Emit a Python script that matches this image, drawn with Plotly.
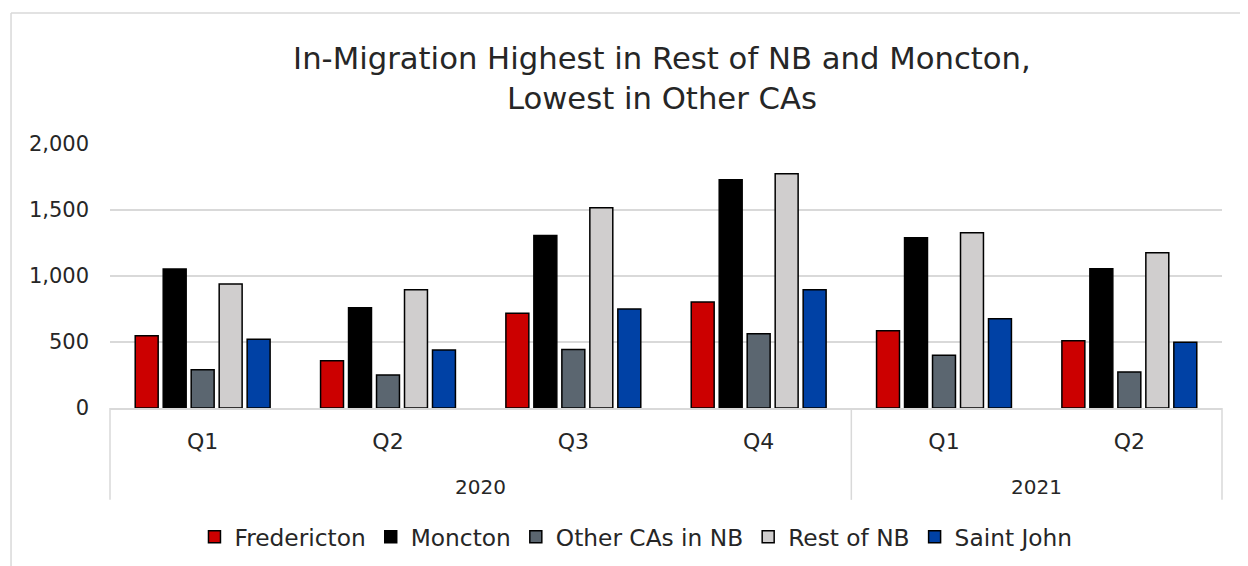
import plotly.graph_objects as go

years = ["2020", "2021"]
year_quarter_counts = [4, 2]
quarters = ["Q1", "Q2", "Q3", "Q4", "Q1", "Q2"]
categories = ["2020 Q1", "2020 Q2", "2020 Q3", "2020 Q4", "2021 Q1", "2021 Q2"]

series_names = ["Fredericton", "Moncton", "Other CAs in NB", "Rest of NB", "Saint John"]
fredericton = [548, 358, 717, 803, 586, 510]
moncton = [1053, 760, 1306, 1730, 1290, 1055]
other_cas = [290, 250, 444, 563, 399, 273]
rest_of_nb = [939, 896, 1517, 1775, 1328, 1177]
saint_john = [520, 439, 750, 896, 677, 498]
colors = ["#CC0000", "#000000", "#5B6670", "#D0CECE", "#0041A5"]

values = [fredericton, moncton, other_cas, rest_of_nb, saint_john]

FONT = "DejaVu Sans"
TXT = "#262626"
GRID = "#D9D9D9"

fig = go.Figure()
for name, vals, col in zip(series_names, values, colors):
    fig.add_trace(go.Bar(
        x=categories, y=vals, name=name,
        marker=dict(color=col, line=dict(color="#000000", width=1.5)),
    ))

# year labels centred under their quarters, dividers between years
annotations = []
shapes = []
n = len(categories)
start = 0
shapes.append(dict(type="line", xref="paper", yref="paper", x0=0, x1=0, y0=0, y1=-0.348,
                   line=dict(color=GRID, width=1.5)))
for yr, cnt in zip(years, year_quarter_counts):
    centre = start + (cnt - 1) / 2
    annotations.append(dict(x=centre, xref="x", y=-0.299, yref="paper", text=yr,
                            showarrow=False, yanchor="middle",
                            font=dict(family=FONT, size=20, color=TXT)))
    start += cnt
    px = start / n
    shapes.append(dict(type="line", xref="paper", yref="paper", x0=px, x1=px, y0=0, y1=-0.348,
                       line=dict(color=GRID, width=1.5)))

# chart frame (top and left edges)
shapes += [
    dict(type="line", xref="paper", yref="paper", x0=-0.089, x1=1.05, y0=1.496, y1=1.496,
         line=dict(color=GRID, width=1.5)),
    dict(type="line", xref="paper", yref="paper", x0=-0.089, x1=-0.089, y0=1.496, y1=-0.7,
         line=dict(color=GRID, width=1.5)),
]

fig.update_layout(
    width=1248, height=566,
    paper_bgcolor="white", plot_bgcolor="white",
    barmode="group", bargap=0.245, bargroupgap=0.18,
    margin=dict(l=102, r=34, t=136, b=166, autoexpand=False),
    font=dict(family=FONT, color=TXT, size=20),
    title=dict(
        text="In-Migration Highest in Rest of NB and Moncton,<br>Lowest in Other CAs",
        x=0.524, xanchor="center", y=0.892, yanchor="middle",
        font=dict(family=FONT, size=30.7, color=TXT),
    ),
    legend=dict(
        orientation="h", x=0.473, xanchor="center", y=-0.489, yanchor="middle",
        font=dict(family=FONT, size=23.3, color=TXT),
        traceorder="normal", itemwidth=30,
    ),
    xaxis=dict(
        type="category",
        tickvals=categories, ticktext=quarters,
        showline=True, linecolor=GRID, linewidth=1.5,
        showgrid=False,
        tickfont=dict(family=FONT, size=22, color=TXT),
        ticks="", ticklabelstandoff=13,
    ),
    yaxis=dict(
        range=[0, 2000], dtick=500, tickformat=",d",
        showgrid=True, gridcolor=GRID, gridwidth=1.5,
        zeroline=False,
        tickfont=dict(family=FONT, size=21, color=TXT),
        ticks="", ticklabelstandoff=20,
    ),
    annotations=annotations,
    shapes=shapes,
)

fig.write_html("out.html")
